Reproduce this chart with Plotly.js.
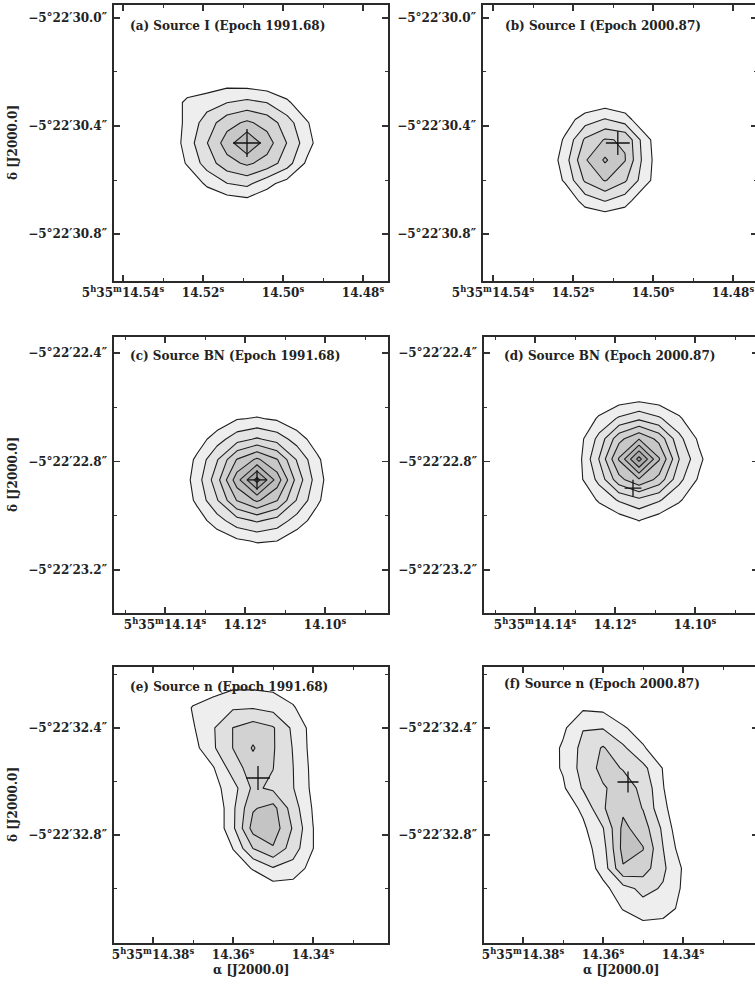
<!DOCTYPE html>
<html><head><meta charset="utf-8">
<script src="https://cdn.plot.ly/plotly-3.0.1.min.js"></script>
<style>html,body{margin:0;padding:0;overflow:hidden;background:#fff}</style>
</head><body><div id="chart" style="width:760px;height:987px"></div>
<script>
// ---------------- data (RA seconds of 5h35m, Dec arcsec of -5°22') ----------------
const panelTitles = ["(a) Source I (Epoch 1991.68)", "(b) Source I (Epoch 2000.87)",
  "(c) Source BN (Epoch 1991.68)", "(d) Source BN (Epoch 2000.87)",
  "(e) Source n (Epoch 1991.68)", "(f) Source n (Epoch 2000.87)"];

const raA = [14.529, 14.524, 14.519, 14.514, 14.509, 14.504, 14.499, 14.494, 14.489];
const decA = [30.238, 30.313, 30.388, 30.463, 30.538, 30.613, 30.688];
const fluxA = [
  [0, 0, 0.3, 0.6, 0.45, 0.25, 0, 0, 0],
  [0, 1.3, 1.6, 1.98, 2.27, 1.98, 1.2, 0.12, 0],
  [0, 1.3, 2.46, 3.63, 4.18, 3.63, 2.46, 1.1, 0],
  [0, 1.45, 2.97, 4.48, 6.0, 4.48, 2.97, 1.45, 0],
  [0, 1.1, 2.46, 3.63, 4.18, 3.63, 2.46, 0.8, 0],
  [0, 0.12, 1.2, 1.98, 2.27, 1.3, 0.6, 0, 0],
  [0, 0, 0, 0.25, 0.45, 0.25, 0, 0, 0]
];

const raB = [14.527, 14.522, 14.517, 14.512, 14.507, 14.502, 14.497];
const decB = [30.301, 30.376, 30.451, 30.526, 30.601, 30.676, 30.751];
const fluxB = [
  [0, 0, 0, 0.15, 0, 0, 0],
  [0, 0.5, 1.48, 2.07, 1.48, 0.06, 0],
  [0, 1.15, 3.15, 4.08, 3.9, 1.4, 0],
  [0, 1.55, 3.88, 5.15, 4.05, 1.55, 0],
  [0, 1.15, 3.15, 4.08, 3.15, 1.4, 0],
  [0, 0.06, 1.48, 2.07, 1.48, 0.06, 0],
  [0, 0, 0, 0.15, 0, 0, 0]
];

const raC = [14.137, 14.132, 14.127, 14.122, 14.117, 14.112, 14.107, 14.102, 14.097];
const decC = [22.568, 22.643, 22.718, 22.793, 22.868, 22.943, 23.018, 23.093, 23.168];
const fluxC = [
  [0, 0, 0, 0, 0, 0, 0, 0, 0],
  [0, 0, 0.26, 0.95, 1.1, 0.875, 0.26, 0, 0],
  [0, 0.45, 1.55, 2.6, 3.14, 2.6, 1.55, 0.45, 0],
  [0, 1.22, 2.91, 5.06, 6.19, 5.06, 2.91, 1.22, 0],
  [0.03, 1.5, 3.61, 6.59, 9.4, 6.59, 3.61, 1.5, 0.03],
  [0, 1.22, 2.91, 5.06, 6.19, 5.06, 2.91, 1.22, 0],
  [0, 0.45, 1.55, 2.6, 3.14, 2.6, 1.55, 0.5, 0],
  [0, 0, 0.26, 0.8, 1.1, 1.0, 0.3, 0, 0],
  [0, 0, 0, 0, 0, 0, 0, 0, 0]
];

const raD = [14.134, 14.129, 14.124, 14.119, 14.114, 14.109, 14.104, 14.099, 14.094];
const decD = [22.491, 22.566, 22.641, 22.716, 22.791, 22.866, 22.941, 23.016, 23.091];
const fluxD = [
  [0, 0, 0, 0, 0, 0, 0, 0, 0],
  [0, 0, 0, 0.4, 0.6, 0.4, 0, 0, 0],
  [0, 0, 1.17, 2.14, 2.77, 2.14, 1.17, 0, 0],
  [0, 0.6, 2.31, 4.67, 5.92, 4.67, 2.31, 0.8, 0],
  [0, 0.7, 3.03, 6.1, 9.4, 6.1, 3.03, 1.25, 0],
  [0, 0.7, 2.31, 4.67, 5.92, 4.67, 2.31, 0.85, 0],
  [0, 0, 1.17, 2.14, 2.77, 2.14, 1.17, 0.1, 0],
  [0, 0, 0, 0.5, 1.05, 0.5, 0, 0, 0],
  [0, 0, 0, 0, 0, 0, 0, 0, 0]
];

const raE = [14.375, 14.370, 14.365, 14.360, 14.355, 14.350, 14.345, 14.340, 14.335];
const decE = [32.175, 32.25, 32.325, 32.4, 32.475, 32.55, 32.625, 32.7, 32.775, 32.85, 32.925, 33.0, 33.075];
const fluxE = [
  [0, 0, 0, 0, 0, 0, 0, 0, 0],
  [0, 0.2, 0.5, 0.9, 0.9, 0.8, 0.3, 0, 0],
  [0, 1.1, 1.6, 1.9, 1.95, 1.7, 1.15, 0, 0],
  [0, 0.9, 1.9, 3.02, 3.5, 3.1, 1.8, 0.6, 0],
  [0, 0.6, 1.85, 3.02, 4.1, 3.1, 1.95, 0.6, 0],
  [0, 0, 0.9, 2.5, 3.5, 3.02, 2.02, 0.7, 0],
  [0, 0, 0.6, 1.6, 3.2, 2.8, 2.05, 0.75, 0],
  [0, 0, 0, 1.8, 3.9, 4.35, 2.5, 0.9, 0],
  [0, 0, 0, 1.8, 4.4, 4.6, 2.9, 1.02, 0],
  [0, 0, 0, 1.02, 3.02, 3.9, 2.5, 1.02, 0],
  [0, 0, 0, 0.6, 1.05, 1.9, 1.6, 0.6, 0],
  [0, 0, 0, 0, 0.4, 0.5, 0.5, 0, 0],
  [0, 0, 0, 0, 0, 0, 0, 0, 0]
];

const raF = [14.375, 14.370, 14.365, 14.360, 14.355, 14.350, 14.345, 14.340, 14.335];
const decF = [32.25, 32.325, 32.4, 32.475, 32.55, 32.625, 32.7, 32.775, 32.85, 32.925, 33.0, 33.075, 33.15];
const fluxF = [
  [0, 0, 0.2, 0.2, 0, 0, 0, 0, 0],
  [0, 0.3, 0.85, 0.75, 0.4, 0, 0, 0, 0],
  [0, 0.8, 1.95, 1.95, 1.1, 0.6, 0, 0, 0],
  [0.3, 1.15, 2.3, 3.1, 2.2, 1.1, 0.4, 0, 0],
  [0.5, 1.1, 2.4, 3.3, 2.95, 2.3, 0.95, 0, 0],
  [0, 0.85, 2.1, 2.9, 3.4, 2.8, 1.05, 0, 0],
  [0, 0.4, 1.2, 2.9, 3.8, 2.95, 1.2, 0.3, 0],
  [0, 0, 0.8, 1.95, 4.25, 3.5, 1.8, 0, 0],
  [0, 0, 0.5, 1.6, 4.35, 4.05, 2.02, 0.4, 0],
  [0, 0, 0.3, 1.4, 3.9, 3.5, 2.2, 0.9, 0],
  [0, 0, 0, 0.7, 1.6, 2.3, 1.9, 0.85, 0],
  [0, 0, 0, 0.3, 1.05, 1.6, 1.5, 0.7, 0],
  [0, 0, 0, 0, 0.4, 0.6, 0.5, 0, 0]
];

// contour levels per panel (1..N)
const levelCount = [5, 5, 9, 9, 4, 4];

// reference crosses
const crossRA = [14.509, 14.5088, 14.117, 14.1155, 14.35375, 14.35375];
const crossDec = [30.463, 30.463, 22.868, 22.898, 32.587, 32.602];

// tick values and labels
const raTicksI = [14.54, 14.52, 14.50, 14.48];
const raMinorI = [14.53, 14.51, 14.49];
const raTextI = ["5<sup>h</sup>35<sup>m</sup>14.54<sup>s</sup>", "14.52<sup>s</sup>", "14.50<sup>s</sup>", "14.48<sup>s</sup>"];
const decTicksI = [30.0, 30.4, 30.8];
const decMinorI = [30.2, 30.6];
const decTextI = ["−5°22′30.0″", "−5°22′30.4″", "−5°22′30.8″"];

const raTicksBN = [14.14, 14.12, 14.10];
const raMinorBN = [14.15, 14.13, 14.11, 14.09];
const raTextBN = ["5<sup>h</sup>35<sup>m</sup>14.14<sup>s</sup>", "14.12<sup>s</sup>", "14.10<sup>s</sup>"];
const decTicksBN = [22.4, 22.8, 23.2];
const decMinorBN = [22.6, 23.0];
const decTextBN = ["−5°22′22.4″", "−5°22′22.8″", "−5°22′23.2″"];

const raTicksN = [14.38, 14.36, 14.34];
const raMinorN = [14.37, 14.35, 14.33];
const raTextN = ["5<sup>h</sup>35<sup>m</sup>14.38<sup>s</sup>", "14.36<sup>s</sup>", "14.34<sup>s</sup>"];
const decTicksN = [32.4, 32.8];
const decMinorN = [32.2, 32.6, 33.0];
const decTextN = ["−5°22′32.4″", "−5°22′32.8″"];

// ---------------- layout / styling ----------------
const W = 760, H = 987;
const FONT = "DejaVu Serif";
const TXT = {family: FONT, size: 12, color: "#222", weight: "bold"};
const frames = [[114, 388, 5, 281], [483, 757, 5, 281], [114, 388, 337, 613],
                [484, 758, 337, 613], [114, 388, 667, 943], [484, 758, 667, 943]];
const xRanges = [[14.54225, 14.47375], [14.5425, 14.474], [14.15275, 14.08425],
                 [14.15275, 14.08425], [14.38975, 14.32125], [14.38975, 14.32125]];
const yRanges = [[30.974, 29.952], [30.974, 29.952], [23.3585, 22.341],
                 [23.3585, 22.341], [33.204, 32.172], [33.204, 32.172]];
const darkest = [186, 186, 160, 160, 196, 194];
const crossSize = [20, 17, 14, 12, 17, 15];
const titlePos = [[128, 26], [503, 26], [128, 356], [502, 356], [128, 687], [502, 684]];

const grids = [[raA, decA, fluxA], [raB, decB, fluxB], [raC, decC, fluxC],
               [raD, decD, fluxD], [raE, decE, fluxE], [raF, decF, fluxF]];
const xt = [[raTicksI, raMinorI, raTextI], [raTicksI, raMinorI, raTextI],
            [raTicksBN, raMinorBN, raTextBN], [raTicksBN, raMinorBN, raTextBN],
            [raTicksN, raMinorN, raTextN], [raTicksN, raMinorN, raTextN]];
const yt = [[decTicksI, decMinorI, decTextI], [decTicksI, decMinorI, decTextI],
            [decTicksBN, decMinorBN, decTextBN], [decTicksBN, decMinorBN, decTextBN],
            [decTicksN, decMinorN, decTextN], [decTicksN, decMinorN, decTextN]];

function grayHex(v) { const h = Math.round(v).toString(16).padStart(2, "0"); return "#" + h + h + h; }

const traces = [];
const layout = {
  width: W, height: H, margin: {l: 0, r: 0, t: 0, b: 0},
  paper_bgcolor: "#fff", plot_bgcolor: "#fff", showlegend: false,
  font: TXT,
  annotations: []
};

for (let i = 0; i < 6; i++) {
  const n = i === 0 ? "" : String(i + 1);
  const [l, r, t, b] = frames[i];
  const N = levelCount[i];
  const cs = [[0, "#ffffff"]];
  for (let k = 1; k <= N; k++) {
    const g = 238 - (238 - darkest[i]) * (k - 1) / (N - 1);
    cs.push([k / N, grayHex(g)]);
  }
  const [gx, gy, gz] = grids[i];
  traces.push({
    type: "contour", x: gx, y: gy, z: gz, xaxis: "x" + n, yaxis: "y" + n,
    autocontour: false,
    contours: {start: 1, end: N, size: 1, coloring: "fill", showlines: true},
    line: {color: "#1e1e1e", width: 1.1, smoothing: 0},
    colorscale: cs, showscale: false, hoverinfo: "skip"
  });
  traces.push({
    type: "scatter", mode: "markers", x: [crossRA[i]], y: [crossDec[i]],
    xaxis: "x" + n, yaxis: "y" + n, hoverinfo: "skip",
    marker: {symbol: "cross-thin", size: crossSize[i], color: "#111", line: {color: "#111", width: 1.3}}
  });
  const common = {
    tickmode: "array", ticks: "inside", ticklen: 6, tickwidth: 1.2, tickcolor: "#333",
    showline: true, linecolor: "#2a2a2a", linewidth: 1.6, mirror: "ticks",
    showgrid: false, zeroline: false, fixedrange: true,
    tickfont: TXT
  };
  layout["xaxis" + n] = Object.assign({}, common, {
    domain: [l / W, r / W], range: xRanges[i], anchor: "y" + n,
    tickvals: xt[i][0], ticktext: xt[i][2],
    minor: {tickmode: "array", tickvals: xt[i][1], ticks: "inside", ticklen: 3, tickwidth: 1, tickcolor: "#333"}
  });
  layout["yaxis" + n] = Object.assign({}, common, {
    domain: [1 - b / H, 1 - t / H], range: yRanges[i], anchor: "x" + n,
    tickvals: yt[i][0], ticktext: yt[i][2], ticklabelstandoff: 3,
    minor: {tickmode: "array", tickvals: yt[i][1], ticks: "inside", ticklen: 3, tickwidth: 1, tickcolor: "#333"}
  });
  layout.annotations.push({
    text: panelTitles[i], xref: "paper", yref: "paper",
    x: titlePos[i][0] / W, y: 1 - titlePos[i][1] / H, xanchor: "left", yanchor: "middle",
    showarrow: false, font: TXT
  });
  if (i % 2 === 0) {
    layout.annotations.push({
      text: "δ [J2000.0]", xref: "paper", yref: "paper", textangle: -90,
      x: 13 / W, y: 1 - ((t + b) / 2) / H, xanchor: "center", yanchor: "middle",
      showarrow: false, font: TXT
    });
  }
  if (i >= 4) {
    layout.annotations.push({
      text: "α [J2000.0]", xref: "paper", yref: "paper",
      x: ((l + r) / 2) / W, y: 1 - 970 / H, xanchor: "center", yanchor: "middle",
      showarrow: false, font: TXT
    });
  }
}

Plotly.newPlot("chart", traces, layout, {staticPlot: true, displayModeBar: false});
</script>
</body></html>
